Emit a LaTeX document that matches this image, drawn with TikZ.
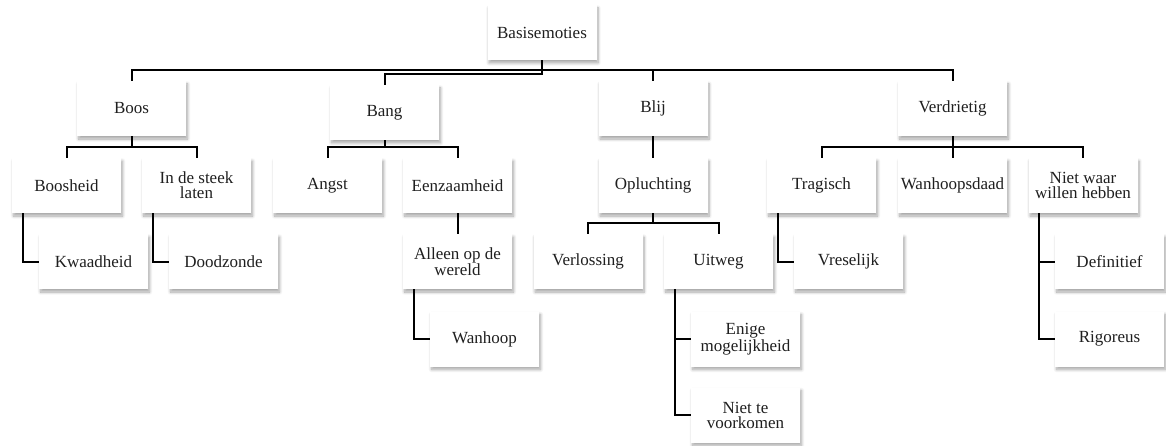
\documentclass[tikz,border=0pt]{standalone}
\usepackage{fontspec}
\setmainfont{Liberation Serif}
\usetikzlibrary{shadows.blur, positioning}
\tikzstyle{block} = [rectangle, fill=white, text=black!88, align=center, inner sep=0pt,
  minimum width=109pt, minimum height=55pt, font=\fontsize{17}{15}\selectfont,
  blur shadow={shadow xshift=1.5pt, shadow yshift=-3pt, shadow blur radius=3pt,
  shadow blur steps=8, shadow opacity=35}]
\tikzstyle{link} = [line width=2pt, black]

\begin{document}
\begin{tikzpicture}[x=1pt, y=-1pt]
    \useasboundingbox (0,0) rectangle (1166,446);

    % Top
    \node (basis) [block] at (542,32.5) {Basisemoties};

    % Basic emotions
    \node (boos) [block] at (131.5,108.5) {Boos};
    \node (bang) [block] at (384.5,112.5) {Bang};
    \node (blij) [block] at (653,108.5) {Blij};
    \node (verdriet) [block] at (952.5,108.5) {Verdrietig};

    % Second row
    \node (boosheid) [block] at (66.5,185.5) {Boosheid};
    \node (steek) [block] at (196.5,185.5) {In de steek\\laten};
    \node (angst) [block] at (327.5,185.5) {Angst};
    \node (eenzaam) [block] at (457.5,185.5) {Eenzaamheid};
    \node (oplucht) [block] at (653,185.5) {Opluchting};
    \node (tragisch) [block] at (821.5,185.5) {Tragisch};
    \node (wanhoopsdaad) [block] at (952.5,185.5) {Wanhoopsdaad};
    \node (nietwaar) [block] at (1083,185.5) {Niet waar\\willen hebben};

    % Third row
    \node (kwaad) [block] at (93.5,261.5) {Kwaadheid};
    \node (doodzonde) [block] at (223.5,261.5) {Doodzonde};
    \node (alleen) [block] at (457.5,261.5) {Alleen op de\\wereld};
    \node (verlossing) [block] at (588,261.5) {Verlossing};
    \node (uitweg) [block] at (718.5,261.5) {Uitweg};
    \node (vreselijk) [block] at (848.5,261.5) {Vreselijk};
    \node (definitief) [block] at (1109.5,261.5) {Definitief};

    % Fourth row
    \node (wanhoop) [block] at (484.5,339) {Wanhoop};
    \node (enige) [block] at (745.5,339) {Enige\\mogelijkheid};
    \node (rigoreus) [block] at (1109.5,339) {Rigoreus};
    \node (voorkomen) [block] at (745.5,415) {Niet te\\voorkomen};

    % ==== Connectors
    % Top level
    \draw [link] (basis.south) -- ++(0,10) -| (boos.north);
    \draw [link] (basis.south) -- ++(0,14) -| (bang.north);
    \draw [link] (basis.south) -- ++(0,10) -| (blij.north);
    \draw [link] (basis.south) -- ++(0,10) -| (verdriet.north);

    % Second level
    \draw [link] (boos.south) -- ++(0,11) -| (boosheid.north);
    \draw [link] (boos.south) -- ++(0,11) -| (steek.north);
    \draw [link] (bang.south) -- ++(0,7) -| (angst.north);
    \draw [link] (bang.south) -- ++(0,7) -| (eenzaam.north);
    \draw [link] (blij) -- (oplucht);
    \draw [link] (verdriet.south) -- ++(0,11) -| (tragisch.north);
    \draw [link] (verdriet.south) -- (wanhoopsdaad.north);
    \draw [link] (verdriet.south) -- ++(0,11) -| (nietwaar.north);

    % Third level
    \draw [link] ([xshift=11pt]boosheid.south west) |- (kwaad.west);
    \draw [link] ([xshift=11pt]steek.south west) |- (doodzonde.west);
    \draw [link] (eenzaam) -- (alleen);
    \draw [link] (oplucht.south) -- ++(0,10) -| (verlossing.north);
    \draw [link] (oplucht.south) -- ++(0,10) -| (uitweg.north);
    \draw [link] ([xshift=11pt]tragisch.south west) |- (vreselijk.west);
    \draw [link] ([xshift=11pt]nietwaar.south west) |- (definitief.west);

    % Fourth level
    \draw [link] ([xshift=11pt]alleen.south west) |- (wanhoop.west);
    \draw [link] ([xshift=11pt]uitweg.south west) |- (enige.west);
    \draw [link] ([xshift=11pt]uitweg.south west) |- (voorkomen.west);
    \draw [link] ([xshift=11pt]nietwaar.south west) |- (rigoreus.west);

\end{tikzpicture}
\end{document}
